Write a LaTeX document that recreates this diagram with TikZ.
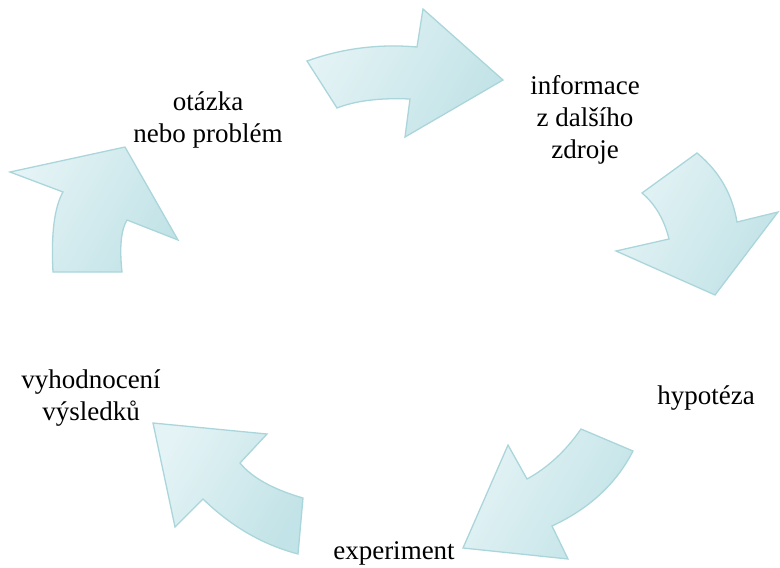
\documentclass[tikz,border=0pt]{standalone}
\usepackage{fontspec}
\setmainfont{Liberation Serif}
\definecolor{arrlight}{RGB}{228,243,245}
\definecolor{arrdark}{RGB}{194,227,231}
\definecolor{arredge}{RGB}{170,214,219}
\tikzset{
  cyclearrow/.style={draw=arredge, line width=1.3pt, line join=miter, left color=arrlight, right color=arrdark, shading angle=60},
  lbl/.style={align=center, font=\fontsize{27}{32}\selectfont, inner sep=0pt, text=black}
}
\begin{document}
\begin{tikzpicture}[x=1pt,y=-1pt]
\useasboundingbox (0,0) rectangle (780,568);
% top arrow
\path[cyclearrow] (307,61) -- (337,108) .. controls (355.7,100.7) and (380,97.7) .. (410,99) -- (405,137) -- (503,80) -- (423,9) -- (417,47) .. controls (379,43.7) and (342.3,48.3) .. cycle;
% right arrow
\path[cyclearrow] (642,193) -- (697,153) .. controls (719,171) and (732.3,194) .. (737,222) -- (778,212) -- (715,295) -- (616,251) -- (669,239) .. controls (664.3,219.7) and (655.3,204.3) .. cycle;
% bottom right arrow
\path[cyclearrow] (581,429) -- (633,451) .. controls (616.3,483.7) and (589.3,508.7) .. (552,526) -- (568,559) -- (463,548) -- (508,445) -- (527,479) .. controls (547.7,467.7) and (565.7,451) .. cycle;
% bottom left arrow
\path[cyclearrow] (303,498) -- (298,554) .. controls (262.7,544.7) and (231,526.3) .. (203,499) -- (175,527) -- (153,423) -- (267,434) -- (240,463) .. controls (252,477.7) and (273,489.3) .. cycle;
% left arrow
\path[cyclearrow] (53,272) -- (122,272) .. controls (119.3,247.3) and (121,230) .. (127,220) -- (178,240) -- (125,147) -- (10,172) -- (63,192) .. controls (54.3,207.3) and (51,234) .. cycle;
% labels
\node[lbl] (q) at (208,120) {otázka\\nebo problém};
\node[lbl] (info) at (585,120) {informace\\z dalšího\\zdroje};
\node[lbl] (hyp) at (706,398) {hypotéza};
\node[lbl] (exp) at (394,553) {experiment};
\node[lbl] (eval) at (91,398) {vyhodnocení\\výsledků};
\end{tikzpicture}
\end{document}
